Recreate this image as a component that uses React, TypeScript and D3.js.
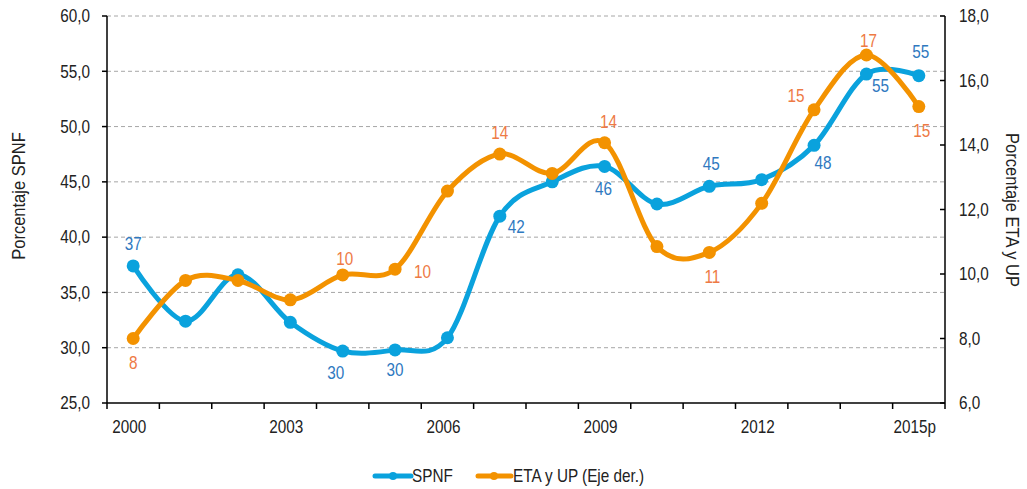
import * as d3 from "d3";

const years = ["2000", "2001", "2002", "2003", "2004", "2005", "2006", "2007", "2008", "2009", "2010", "2011", "2012", "2013", "2014", "2015p"];
const spnf = [37.4, 32.4, 36.6, 32.3, 29.7, 29.8, 30.9, 41.9, 45.0, 46.4, 43.0, 44.6, 45.2, 48.3, 54.75, 54.6];
const eta = [8.0, 9.8, 9.8, 9.2, 9.97, 10.15, 12.57, 13.72, 13.12, 14.07, 10.85, 10.67, 12.19, 15.09, 16.79, 15.19];
const xTickLabels = ["2000", "2003", "2006", "2009", "2012", "2015p"];
const leftTicks = [25, 30, 35, 40, 45, 50, 55, 60];
const rightTicks = [6, 8, 10, 12, 14, 16, 18];

// which points get a value label, and where it sits relative to the marker [index, dx, dy, anchor]
const spnfLabels: [number, number, number, string][] = [
  [0, 0, -16, "middle"],
  [4, -7, 28, "middle"],
  [5, 0, 26, "middle"],
  [7, 8, 17, "start"],
  [9, -1, 29, "middle"],
  [11, 2, -16, "middle"],
  [13, 9, 24, "middle"],
  [14, 14, 18, "middle"],
  [15, 2, -18, "middle"],
];
const etaLabels: [number, number, number, string][] = [
  [0, 0, 30, "middle"],
  [4, 2, -10, "middle"],
  [5, 19, 9, "start"],
  [7, 0, -15, "middle"],
  [9, 4, -15, "middle"],
  [11, 3, 31, "middle"],
  [13, -18, -8, "middle"],
  [14, 2, -8, "middle"],
  [15, 3, 30, "middle"],
];

const W = 1027;
const H = 489;
const L = 107;
const R = 945;
const T = 16;
const B = 403;
const FONT = "'Liberation Sans', Arial, sans-serif";
const SX = 0.85; // the original uses a narrow face; squeeze regular Arial-metric text
const BLUE = "#0AA2DD";
const ORANGE = "#F39200";
const BLUE_TXT = "#2F79BF";
const ORANGE_TXT = "#EE7A45";
const INK = "#222";

function NText({
  x,
  y,
  anchor = "start",
  dy,
  fill = INK,
  size = 18,
  sx = SX,
  rotate = 0,
  children,
}: {
  x: number;
  y: number;
  anchor?: string;
  dy?: string;
  fill?: string;
  size?: number;
  sx?: number;
  rotate?: number;
  children: any;
}) {
  return (
    <text
      transform={`translate(${x},${y}) rotate(${rotate}) scale(${sx},1)`}
      textAnchor={anchor}
      dy={dy}
      fontSize={size}
      fill={fill}
    >
      {children}
    </text>
  );
}

export default function App() {
  const x = d3.scaleBand<string>().domain(years).range([L, R]);
  const cx = (i: number) => (x(years[i]) ?? 0) + x.bandwidth() / 2;
  const yL = d3.scaleLinear().domain([25, 60]).range([B, T]);
  const yR = d3.scaleLinear().domain([6, 18]).range([B, T]);

  const lineL = d3
    .line<number>()
    .x((_, i) => cx(i))
    .y((d) => yL(d))
    .curve(d3.curveCardinal.tension(0));
  const lineR = d3
    .line<number>()
    .x((_, i) => cx(i))
    .y((d) => yR(d))
    .curve(d3.curveCardinal.tension(0));

  const boundaries = d3.range(years.length + 1).map((i) => L + i * x.bandwidth());
  const fmt = (t: number) => t.toFixed(1).replace(".", ",");

  return (
    <svg
      width={W}
      height={H}
      style={{ position: "absolute", left: 0, top: 0, background: "#fff" }}
      fontFamily={FONT}
    >
      {/* gridlines */}
      {leftTicks.slice(1).map((t) => (
        <line key={t} x1={L} x2={R} y1={yL(t)} y2={yL(t)} stroke="#a6a6a6" strokeDasharray="4 3" strokeWidth={1} />
      ))}

      {/* axes */}
      <line x1={L} x2={L} y1={T} y2={B} stroke="#000" strokeWidth={1.5} />
      <line x1={R} x2={R} y1={T} y2={B} stroke="#000" strokeWidth={1.5} />
      <line x1={L} x2={R} y1={B} y2={B} stroke="#000" strokeWidth={1.5} />

      {leftTicks.map((t) => (
        <g key={t}>
          <line x1={L - 5} x2={L} y1={yL(t)} y2={yL(t)} stroke="#000" strokeWidth={1.5} />
          <NText x={90} y={yL(t)} dy="0.35em" anchor="end">{fmt(t)}</NText>
        </g>
      ))}
      {rightTicks.map((t) => (
        <g key={t}>
          <line x1={R - 5} x2={R} y1={yR(t)} y2={yR(t)} stroke="#000" strokeWidth={1.5} />
          <NText x={959} y={yR(t)} dy="0.35em">{fmt(t)}</NText>
        </g>
      ))}
      {boundaries.map((bx, i) => (
        <line key={i} x1={bx} x2={bx} y1={B} y2={B + 6} stroke="#000" strokeWidth={1.5} />
      ))}
      {years.map((yr, i) =>
        xTickLabels.includes(yr) ? (
          <NText key={yr} x={cx(i) - 4} y={433} anchor="middle">{yr}</NText>
        ) : null
      )}

      {/* axis titles */}
      <NText x={25} y={196} rotate={-90} anchor="middle" size={19} sx={0.87}>Porcentaje SPNF</NText>
      <NText x={1006} y={210} rotate={90} anchor="middle" size={19} sx={0.87}>Porcentaje ETA y UP</NText>

      {/* series */}
      <path d={lineL(spnf) ?? ""} fill="none" stroke={BLUE} strokeWidth={5} strokeLinejoin="round" />
      {spnf.map((v, i) => (
        <circle key={i} cx={cx(i)} cy={yL(v)} r={6.5} fill={BLUE} />
      ))}
      <path d={lineR(eta) ?? ""} fill="none" stroke={ORANGE} strokeWidth={5} strokeLinejoin="round" />
      {eta.map((v, i) => (
        <circle key={i} cx={cx(i)} cy={yR(v)} r={6.5} fill={ORANGE} />
      ))}

      {/* value labels */}
      {spnfLabels.map(([i, dx, dy, anchor]) => (
        <NText key={"s" + i} x={cx(i) + dx} y={yL(spnf[i]) + dy} anchor={anchor} fill={BLUE_TXT}>
          {Math.round(spnf[i])}
        </NText>
      ))}
      {etaLabels.map(([i, dx, dy, anchor]) => (
        <NText key={"e" + i} x={cx(i) + dx} y={yR(eta[i]) + dy} anchor={anchor} fill={ORANGE_TXT}>
          {Math.round(eta[i])}
        </NText>
      ))}

      {/* legend */}
      <line x1={375} x2={411} y1={476} y2={476} stroke={BLUE} strokeWidth={5} strokeLinecap="round" />
      <circle cx={393} cy={476} r={4} fill={BLUE} />
      <NText x={412} y={476} dy="0.35em">SPNF</NText>
      <line x1={478} x2={511} y1={476} y2={476} stroke={ORANGE} strokeWidth={5} strokeLinecap="round" />
      <circle cx={494} cy={476} r={4} fill={ORANGE} />
      <NText x={513} y={476} dy="0.35em">ETA y UP (Eje der.)</NText>
    </svg>
  );
}
